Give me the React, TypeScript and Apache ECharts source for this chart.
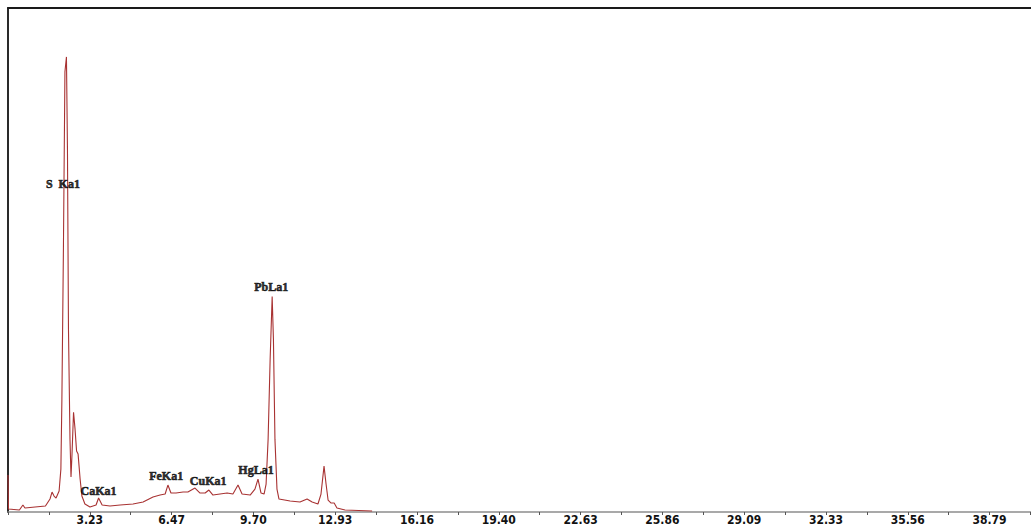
import React, { useEffect, useRef } from "react";
import * as echarts from "echarts";

// Spectrum: energy (keV) and counts
const energyKeV = [
  0.0, 0.02, 0.45, 0.59, 0.67, 1.07, 1.48, 1.66, 1.74, 1.82, 1.9, 2.02, 2.09, 2.13, 2.19, 2.25, 2.31,
  2.35, 2.39, 2.45, 2.49, 2.53, 2.59, 2.65, 2.71, 2.77, 2.85, 2.92, 3.04, 3.24, 3.48, 3.58, 3.72,
  4.03, 4.43, 4.94, 5.34, 5.73, 6.01, 6.21, 6.32, 6.44, 6.64, 6.92, 7.11, 7.39, 7.59, 7.79, 7.94,
  8.1, 8.38, 8.66, 8.89, 9.09, 9.25, 9.57, 9.76, 9.88, 10.0, 10.12, 10.2, 10.28, 10.36, 10.44,
  10.49, 10.55, 10.63, 10.71, 11.15, 11.54, 11.82, 12.02, 12.25, 12.37, 12.49, 12.57, 12.65,
  12.77, 12.89, 13.0, 13.32, 14.39,
];
const counts = [
  74, 6, 4, 14, 8, 10, 12, 26, 40, 32, 28, 42, 86, 226, 526, 882, 912,
  726, 366, 146, 70, 116, 200, 166, 122, 116, 66, 32, 16, 10, 14, 28, 14,
  12, 14, 16, 20, 30, 34, 36, 54, 38, 38, 40, 40, 48, 38, 38, 44,
  34, 36, 38, 36, 54, 36, 34, 46, 66, 38, 36, 56, 146, 306, 432,
  346, 146, 46, 26, 22, 20, 26, 20, 16, 36, 92, 56, 24,
  18, 18, 8, 4, 2,
];

// Peak annotations (label, energy keV, counts position)
const peakLabels = ["S\u00a0\u00a0Ka1", "CaKa1", "FeKa1", "CuKa1", "HgLa1", "PbLa1"];
const peakEnergy = [2.17, 3.58, 6.25, 7.91, 9.8, 10.4];
const peakCounts = [658, 42, 72, 62, 84, 450];

// Axis
const tickLabels = ["3.23", "6.47", "9.70", "12.93", "16.16", "19.40", "22.63", "25.86", "29.09", "32.33", "35.56", "38.79"];
const tickStep = 3.2327;
const xMax = 40.43;
const yMax = 1010;

export default function App() {
  const ref = useRef<HTMLDivElement>(null);
  useEffect(() => {
    if (!ref.current) return;
    const chart = echarts.init(ref.current, null, { renderer: "svg" });
    const lineData = energyKeV.map((e, i) => [e, counts[i]]);
    const annData = peakLabels.map((n, i) => ({ name: n, value: [peakEnergy[i], peakCounts[i]] }));
    chart.setOption({
      animation: false,
      backgroundColor: "#ffffff",
      grid: { left: 8, right: 0, top: 8, bottom: 13, containLabel: false },
      xAxis: [
        {
          type: "value",
          min: 0,
          max: xMax,
          interval: tickStep,
          position: "bottom",
          axisLine: { show: true, lineStyle: { color: "#8c8c8c", width: 1.5 } },
          axisTick: { show: true, length: 3, lineStyle: { color: "#555" } },
          minorTick: { show: true, splitNumber: 2, length: 3, lineStyle: { color: "#555" } },
          splitLine: { show: false },
          axisLabel: {
            show: true,
            margin: 2,
            color: "#111",
            fontWeight: "bold",
            fontSize: 12,
            fontFamily: "'Liberation Sans Narrow', 'DejaVu Sans Condensed', Arial, sans-serif",
            showMinLabel: false,
            showMaxLabel: false,
            formatter: (v: number) => {
              const l = tickLabels.find((t) => Math.abs(parseFloat(t) - v) < 0.02);
              return l || "";
            },
          },
        },
        {
          type: "value",
          min: 0,
          max: xMax,
          position: "top",
          axisLine: { show: true, lineStyle: { color: "#1a1a1a", width: 2 } },
          axisTick: { show: false },
          axisLabel: { show: false },
          splitLine: { show: false },
        },
      ],
      yAxis: {
        type: "value",
        min: 0,
        max: yMax,
        axisLine: { show: true, lineStyle: { color: "#2a2a2a", width: 2 } },
        axisTick: { show: false },
        axisLabel: { show: false },
        splitLine: { show: false },
      },
      series: [
        {
          type: "line",
          data: lineData,
          showSymbol: false,
          symbol: "none",
          lineStyle: { color: "#a83232", width: 1.1 },
          z: 3,
        },
        {
          type: "scatter",
          data: annData,
          symbolSize: 1,
          itemStyle: { color: "rgba(0,0,0,0)" },
          label: {
            show: true,
            position: "inside",
            formatter: (p: any) => p.name,
            color: "#000",
            fontWeight: "bold",
            fontSize: 12,
            fontFamily: "'Liberation Serif', 'DejaVu Serif', serif",
            textBorderColor: "#000",
            textBorderWidth: 0.6,
          },
          z: 4,
        },
      ],
    });
    return () => chart.dispose();
  }, []);
  return (
    <div
      ref={ref}
      style={{ position: "fixed", left: 0, top: 0, width: 1031, height: 526, background: "#fff" }}
    />
  );
}
